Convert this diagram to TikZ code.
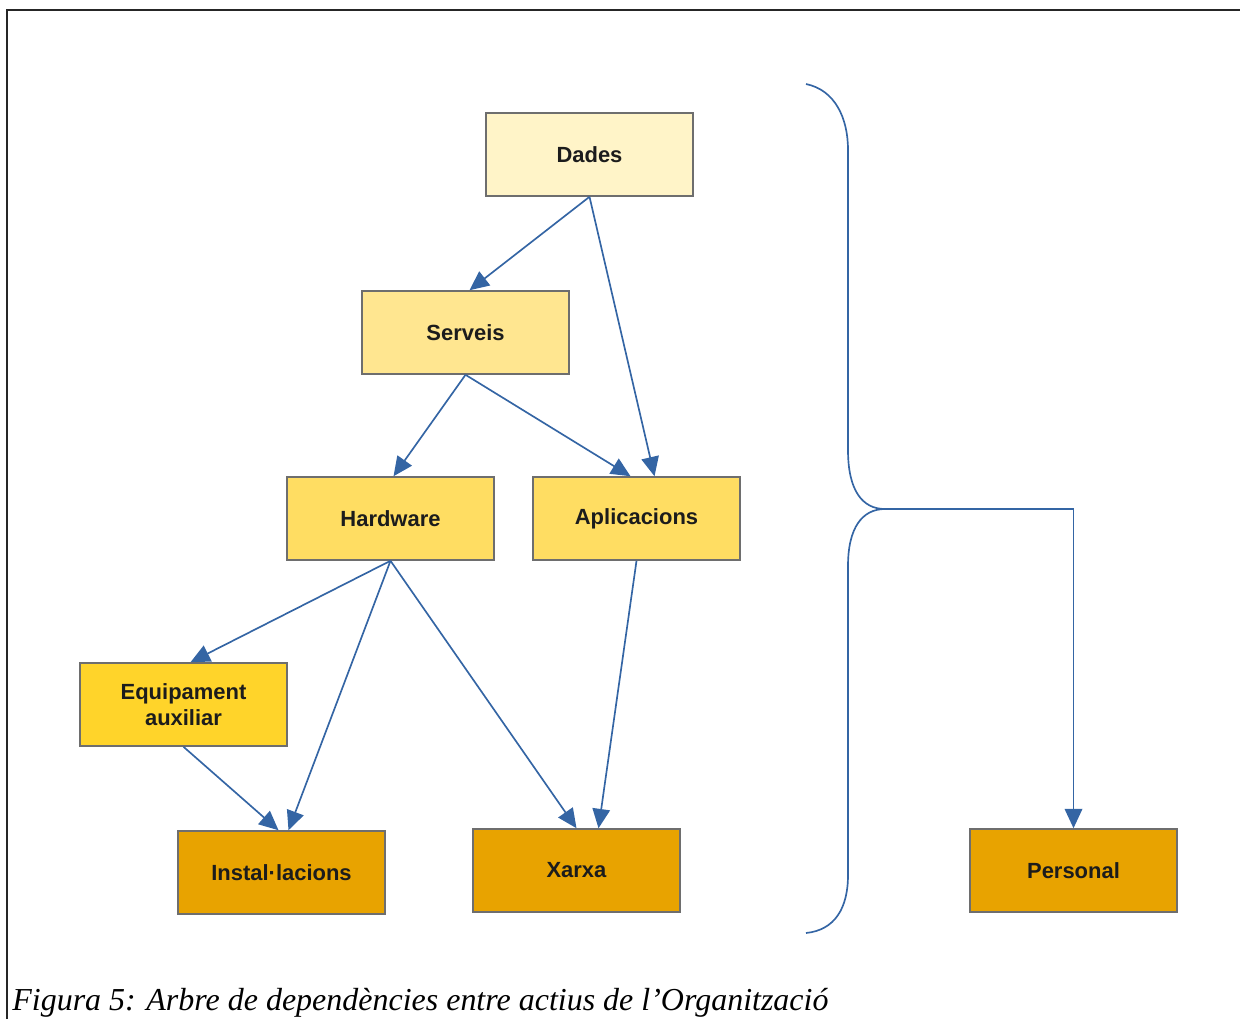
\documentclass[tikz,border=0pt]{standalone}
\usepackage{fontspec}
\setmainfont{Liberation Serif}
\newfontfamily\labelfont{Liberation Sans}
\usetikzlibrary{arrows.meta,calc}

\definecolor{linkblue}{HTML}{3465A4}
\definecolor{boxedge}{HTML}{6E6E6E}
\definecolor{lvlA}{HTML}{FFF4C8}
\definecolor{lvlB}{HTML}{FFE690}
\definecolor{lvlC}{HTML}{FFDD62}
\definecolor{lvlD}{HTML}{FFD42A}
\definecolor{lvlE}{HTML}{E8A300}
\definecolor{inktext}{HTML}{1C1C1C}

\tikzset{
  asset/.style={draw=boxedge, line width=0.9pt, rectangle,
    minimum width=4.14cm, minimum height=1.66cm, inner sep=2pt,
    align=center, text=inktext,
    font=\labelfont\bfseries\fontsize{12.5}{14.5}\selectfont},
  link/.style={draw=linkblue, line width=0.95pt,
    -{Triangle[length=11pt,width=10pt]}},
  bracket/.style={draw=linkblue, line width=0.95pt},
}

\begin{document}
\begin{tikzpicture}[x=0.02cm, y=-0.02cm]
  \useasboundingbox (0,0) rectangle (1240,1019);

  % page frame
  \draw[line width=0.9pt, black!85] (7,1019) -- (7,10) -- (1240,10);

  % asset boxes
  \node[asset, fill=lvlA] (dades)    at (589.5,154.5) {Dades};
  \node[asset, fill=lvlB] (serveis)  at (465.5,332.5) {Serveis};
  \node[asset, fill=lvlC] (hardware) at (390.5,518.5) {Hardware};
  \node[asset, fill=lvlC] (apps)     at (636.5,518.5) {Aplicacions};
  \node[asset, fill=lvlD] (equip)    at (183.5,704.5) {Equipament\\auxiliar};
  \node[asset, fill=lvlE] (instal)   at (281.5,872.5) {Instal·lacions};
  \node[asset, fill=lvlE] (xarxa)    at (576.5,870.5) {Xarxa};
  \node[asset, fill=lvlE] (personal) at (1073.5,870.5) {Personal};

  % dependencies
  \draw[link] (dades.south)    -- ($(serveis.north)+(4,0)$);
  \draw[link] (dades.south)    -- ($(apps.north)+(18,0)$);
  \draw[link] (serveis.south)  -- ($(hardware.north)+(3,0)$);
  \draw[link] (serveis.south)  -- ($(apps.north)+(-6,0)$);
  \draw[link] (hardware.south) -- ($(equip.north)+(7,0)$);
  \draw[link] (hardware.south) -- ($(instal.north)+(7,0)$);
  \draw[link] (hardware.south) -- ($(xarxa.north)+(0,0)$);
  \draw[link] (apps.south)     -- ($(xarxa.north)+(22,0)$);
  \draw[link] (equip.south)    -- ($(instal.north)+(-3,0)$);

  % curly bracket grouping the tree
  \draw[bracket] (806,84) .. controls (835,90) and (848,118) .. (848,150)
    -- (848,450) .. controls (848,490) and (862,509) .. (885,509)
    .. controls (862,509) and (848,528) .. (848,566)
    -- (848,875) .. controls (848,908) and (835,930) .. (806,933);
  \coordinate (bracetip) at (885,509);
  \draw[link] (bracetip) -| (personal.north);

  % caption
  \node[anchor=base west, inner sep=0pt,
        font=\itshape\fontsize{18.2}{20}\selectfont] (caption) at (12,1010)
    {Figura 5: Arbre de dependències entre actius de l’Organització};
\end{tikzpicture}
\end{document}
